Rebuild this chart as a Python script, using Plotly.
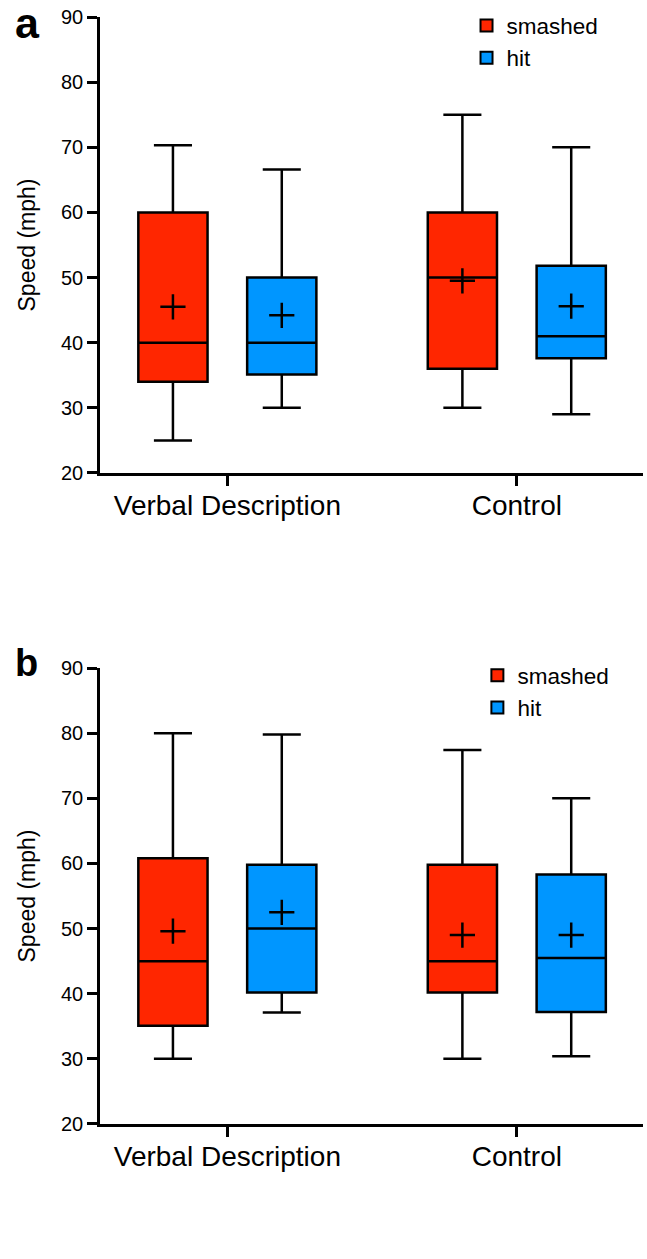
import plotly.graph_objects as go

categories = ["Verbal Description", "Control"]
series_names = ["smashed", "hit"]
series_colors = ["#FF2600", "#0096FF"]
y_ticks = [20, 30, 40, 50, 60, 70, 80, 90]

# Panel a
a_smashed_lower = [25, 30]
a_smashed_q1 = [34, 36]
a_smashed_median = [40, 50]
a_smashed_q3 = [60, 60]
a_smashed_upper = [70.3, 75]
a_smashed_mean = [45.5, 49.5]

a_hit_lower = [30, 29]
a_hit_q1 = [35.1, 37.6]
a_hit_median = [40, 41]
a_hit_q3 = [50, 51.8]
a_hit_upper = [66.6, 70]
a_hit_mean = [44.2, 45.6]

# Panel b
b_smashed_lower = [30, 30]
b_smashed_q1 = [35.1, 40.2]
b_smashed_median = [45, 45]
b_smashed_q3 = [60.8, 59.8]
b_smashed_upper = [80, 77.4]
b_smashed_mean = [49.6, 49.0]

b_hit_lower = [37.1, 30.4]
b_hit_q1 = [40.2, 37.2]
b_hit_median = [50, 45.5]
b_hit_q3 = [59.8, 58.3]
b_hit_upper = [79.8, 70]
b_hit_mean = [52.5, 49.0]

FONT = "Liberation Sans, Arial, Helvetica, sans-serif"

panels = [
    dict(xa="x", ya="y", legend="legend",
         data=[(a_smashed_lower, a_smashed_q1, a_smashed_median, a_smashed_q3, a_smashed_upper, a_smashed_mean),
               (a_hit_lower, a_hit_q1, a_hit_median, a_hit_q3, a_hit_upper, a_hit_mean)]),
    dict(xa="x2", ya="y2", legend="legend2",
         data=[(b_smashed_lower, b_smashed_q1, b_smashed_median, b_smashed_q3, b_smashed_upper, b_smashed_mean),
               (b_hit_lower, b_hit_q1, b_hit_median, b_hit_q3, b_hit_upper, b_hit_mean)]),
]

fig = go.Figure()
for p in panels:
    for name, color, (lo, q1, med, q3, up, mean) in zip(series_names, series_colors, p["data"]):
        fig.add_trace(go.Box(
            x=categories, lowerfence=lo, q1=q1, median=med, q3=q3, upperfence=up,
            name=name, offsetgroup=name, fillcolor=color,
            line=dict(color="black", width=2.5), whiskerwidth=0.55,
            boxpoints=False, xaxis=p["xa"], yaxis=p["ya"], legend=p["legend"],
        ))
    for name, (lo, q1, med, q3, up, mean) in zip(series_names, p["data"]):
        fig.add_trace(go.Scatter(
            x=categories, y=mean, mode="markers", offsetgroup=name,
            marker=dict(symbol="cross-thin", size=18, line=dict(color="black", width=2.5)),
            showlegend=False, xaxis=p["xa"], yaxis=p["ya"],
        ))

xcommon = dict(type="category", range=[-0.44, 1.436], showline=True, linecolor="black",
               linewidth=2.5, ticks="outside", ticklen=10, tickwidth=2.5, tickcolor="black",
               showgrid=False, zeroline=False, automargin=False, ticklabelstandoff=-4,
               tickfont=dict(size=28, color="black", family=FONT))
ycommon = dict(range=[20, 90], tickvals=y_ticks, showline=True, linecolor="black", linewidth=2.5,
               ticks="outside", ticklen=10, tickwidth=2.5, tickcolor="black", showgrid=False,
               zeroline=False, automargin=False, ticklabeloverflow="allow",
               tickfont=dict(size=20, color="black", family=FONT),
               title=dict(text="Speed (mph)", font=dict(size=23, color="black", family=FONT), standoff=19))

legcommon = dict(font=dict(size=22.5, color="black", family=FONT), bgcolor="rgba(0,0,0,0)",
                 xanchor="left", yanchor="top", tracegroupgap=0, itemsizing="constant")

fig.update_layout(
    width=647, height=1259,
    margin=dict(l=100, r=4, t=17, b=135, autoexpand=False),
    paper_bgcolor="white", plot_bgcolor="white",
    font=dict(family=FONT, color="black"),
    boxmode="group", boxgap=0.248, boxgroupgap=0.364,
    scattermode="group", scattergap=0.248,
    xaxis=dict(domain=[0, 1], anchor="y", **xcommon),
    yaxis=dict(domain=[0.5881, 1], anchor="x", **ycommon),
    xaxis2=dict(domain=[0, 1], anchor="y2", **xcommon),
    yaxis2=dict(domain=[0, 0.4119], anchor="x2", **ycommon),
    legend=dict(x=0.675, y=1.0115, **legcommon),
    legend2=dict(x=0.695, y=0.4245, **legcommon),
    annotations=[
        dict(text="<b>a</b>", xref="paper", yref="paper", x=-0.161, y=0.9945, xanchor="left",
             yanchor="middle", showarrow=False, font=dict(size=43, color="black", family=FONT)),
        dict(text="<b>b</b>", xref="paper", yref="paper", x=-0.161, y=0.4168, xanchor="left",
             yanchor="middle", showarrow=False, font=dict(size=38, color="black", family=FONT)),
    ],
    showlegend=True,
)

# Remove the default 8px page margin so the figure fills the window exactly.
fig.write_html("out.html", config={"displayModeBar": False},
               post_script="document.body.style.margin='0';")
